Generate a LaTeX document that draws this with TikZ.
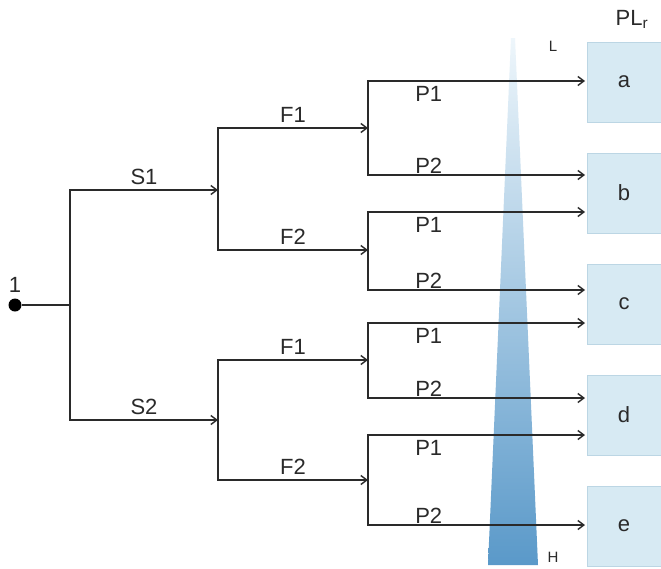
\documentclass[tikz,border=0pt]{standalone}
\usepackage{fontspec}
\setmainfont{Liberation Sans}
\usetikzlibrary{arrows.meta}
\definecolor{linegray}{HTML}{2A2A2A}
\definecolor{boxfill}{HTML}{D7EAF3}
\definecolor{boxline}{HTML}{BCD6E4}
\definecolor{wedgetop}{HTML}{EEF6FB}
\definecolor{wedgemid}{HTML}{A2C9E4}
\definecolor{wedgebot}{HTML}{5A99C9}
\begin{document}
\begin{tikzpicture}[x=1pt,y=-1pt,every node/.style={font=\fontsize{22}{26}\selectfont,text=linegray},
  branch/.style={draw=linegray,line width=1.4pt},
  fork/.style={branch,{Straight Barb[length=6pt,width=9pt]}-{Straight Barb[length=6pt,width=9pt]}},
  plbox/.style={fill=boxfill,draw=boxline,line width=0.8pt,minimum width=74pt,minimum height=80pt,inner sep=0pt},
  tag/.style={font=\fontsize{15}{17}\selectfont}]
\fill[white] (0,0) rectangle (661,568);
\useasboundingbox (0,0) rectangle (661,568);
% level wedge
\shade[top color=wedgetop,middle color=wedgemid,bottom color=wedgebot]
  (511,38) -- (515,38) -- (538,565) -- (488,565) -- cycle;
\node[tag] (lo) at (553,46) {L};
\node[tag] (hi) at (553,557) {H};
% result boxes
\node (plr) at (632,19) {PL\textsubscript{r}};
\node[plbox] (box-a) at (624,82) {a};
\node[plbox] (box-b) at (624,193) {b};
\node[plbox] (box-c) at (624,304) {c};
\node[plbox] (box-d) at (624,415) {d};
\node[plbox] (box-e) at (624,526) {e};
% root and S level
\node[circle,fill=black,inner sep=0pt,minimum size=13pt] (root) at (15,305) {};
\node (root-lbl) at (15,285) {1};
\coordinate (s) at (70,305);
\coordinate (s-1) at (70,190);
\coordinate (s-2) at (70,420);
\coordinate (f1) at (218,190);
\coordinate (f2) at (218,420);
\draw[branch] (root) -- (s);
\draw[fork] (f1) -- node[above,inner sep=5pt]{S1} (s-1) -- (s-2) -- node[above,inner sep=5pt]{S2} (f2);
% F level
\coordinate (f1-1) at (218,128);
\coordinate (f1-2) at (218,250);
\coordinate (f2-1) at (218,360);
\coordinate (f2-2) at (218,480);
\coordinate (p1) at (368,128);
\coordinate (p2) at (368,250);
\coordinate (p3) at (368,360);
\coordinate (p4) at (368,480);
\draw[fork] (p1) -- node[above,inner sep=5pt]{F1} (f1-1) -- (f1-2) -- node[above,inner sep=5pt]{F2} (p2);
\draw[fork] (p3) -- node[above,inner sep=5pt]{F1} (f2-1) -- (f2-2) -- node[above,inner sep=5pt]{F2} (p4);
% P level
\foreach \g/\pa/\pb in {1/81/175,2/212/290,3/323/398,4/435/525} {
  \coordinate (p\g-1) at (368,\pa);
  \coordinate (p\g-2) at (368,\pb);
  \coordinate (e\g-1) at (585,\pa);
  \coordinate (e\g-2) at (585,\pb);
  \draw[fork] (e\g-1) -- node[pos=0.72,below,inner sep=5pt]{P1} (p\g-1) -- (p\g-2)
    -- node[pos=0.28,above,inner sep=1pt]{P2} (e\g-2);
}
\end{tikzpicture}
\end{document}
